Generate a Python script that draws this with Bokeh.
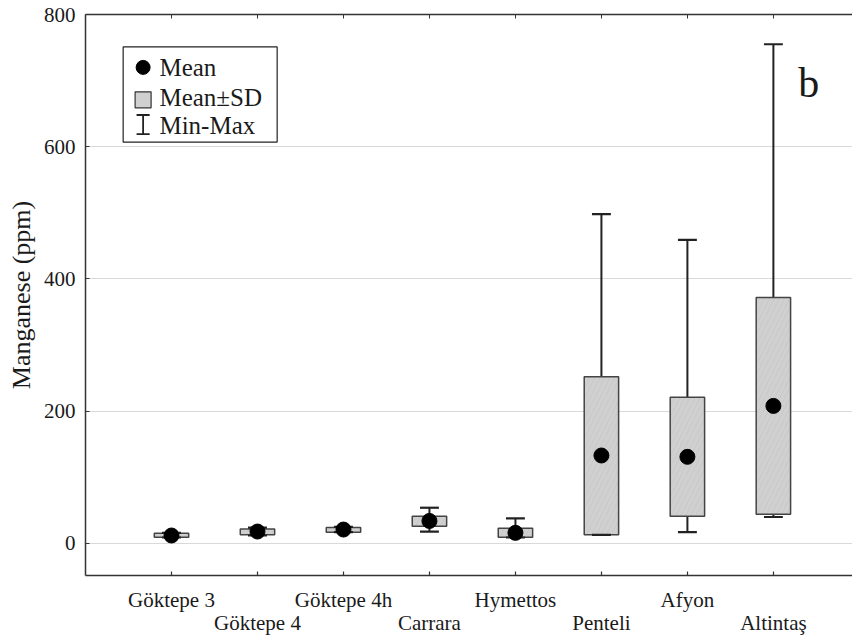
from bokeh.plotting import figure
from bokeh.models import Range1d, FixedTicker, LinearAxis, ColumnDataSource, Label
from bokeh.core.properties import value
from bokeh.embed import file_html
from bokeh.resources import INLINE

categories = ["Göktepe 3", "Göktepe 4", "Göktepe 4h", "Carrara", "Hymettos", "Penteli", "Afyon", "Altintaş"]
means = [12, 18, 21, 34, 16, 133, 131, 208]
sd_low = [9.5, 13, 17, 26, 9.5, 13, 41, 44]
sd_high = [15.5, 22, 24, 41, 23, 252, 221, 372]
mins = [9, 12, 17, 18, 9, 13, 17, 40]
maxs = [16, 24, 25, 54, 38, 498, 459, 755]
y_ticks = [0, 200, 400, 600, 800]

FONT = "Liberation Serif"
TXT = "#1a1a1a"
pos = list(range(1, len(categories) + 1))
odd_pos = [i for i in pos if i % 2 == 1]
even_pos = [i for i in pos if i % 2 == 0]

src = ColumnDataSource(dict(x=pos, mean=means, lo=sd_low, hi=sd_high, mn=mins, mx=maxs))

p = figure(width=852, height=641, output_backend="svg", toolbar_location=None,
           x_range=Range1d(0, 8.92), y_range=Range1d(-48.5, 800),
           min_border_left=85, min_border_right=0, min_border_top=14, min_border_bottom=66)
p.outline_line_color = None
p.background_fill_color = "white"
p.border_fill_color = "white"

# grid
p.xgrid.visible = False
p.ygrid.ticker = FixedTicker(ticks=y_ticks)
p.ygrid.grid_line_color = "#d9d9d9"
p.ygrid.grid_line_width = 1

# axes
for ax in (p.xaxis[0], p.yaxis[0]):
    ax.axis_line_color = "#333333"
    ax.axis_line_width = 1.5
    ax.major_tick_line_color = "#333333"
    ax.major_tick_line_width = 1.2
    ax.major_tick_in = 4
    ax.major_tick_out = 0
    ax.minor_tick_line_color = None
    ax.major_label_text_font = FONT
    ax.major_label_text_font_size = "21px"
    ax.major_label_text_color = TXT

p.yaxis[0].ticker = FixedTicker(ticks=y_ticks)
p.yaxis[0].axis_label = "Manganese (ppm)"
p.yaxis[0].axis_label_text_font = FONT
p.yaxis[0].axis_label_text_font_style = "normal"
p.yaxis[0].axis_label_text_font_size = "26px"
p.yaxis[0].axis_label_text_color = TXT
p.yaxis[0].major_label_standoff = 10
p.yaxis[0].axis_label_standoff = 5

labels = dict(zip(pos, categories))
p.xaxis[0].ticker = FixedTicker(ticks=pos)
p.xaxis[0].major_label_overrides = {i: (labels[i] if i in odd_pos else "") for i in pos}
p.xaxis[0].major_label_standoff = 12

bottom2 = LinearAxis(ticker=FixedTicker(ticks=even_pos), axis_line_color=None,
                     major_tick_line_color=None, minor_tick_line_color=None,
                     major_tick_in=0, major_tick_out=0, major_label_standoff=-4,
                     major_label_text_font=FONT, major_label_text_font_size="21px",
                     major_label_text_color=TXT)
bottom2.major_label_overrides = {i: labels[i] for i in even_pos}
p.add_layout(bottom2, "below")

top_ax = LinearAxis(ticker=FixedTicker(ticks=pos), major_label_text_font_size="0px",
                    axis_line_color="#333333", axis_line_width=1.5,
                    major_tick_line_color="#333333", major_tick_in=4, major_tick_out=0,
                    minor_tick_line_color=None)
top_ax.major_label_overrides = {i: "" for i in pos}
p.add_layout(top_ax, "above")

# whiskers
p.segment(x0="x", y0="mn", x1="x", y1="mx", source=src, line_color="#222222", line_width=2)
# boxes
p.vbar(x="x", top="hi", bottom="lo", width=0.4, source=src, fill_color="#d0d0d0",
       line_color="#444444", line_width=1.5, hatch_pattern="/", hatch_color="#c3c3c3",
       hatch_scale=10, hatch_weight=0.6)
# caps
cw = 0.11
p.segment(x0=[x - cw for x in pos], y0=maxs, x1=[x + cw for x in pos], y1=maxs,
          line_color="#222222", line_width=2.2)
p.segment(x0=[x - cw for x in pos], y0=mins, x1=[x + cw for x in pos], y1=mins,
          line_color="#222222", line_width=2.2)
# means
p.scatter(x="x", y="mean", source=src, size=15, marker="circle", fill_color="black", line_color="black")

# manual legend
lx0, lx1, ly0, ly1 = 0.438, 2.229, 607, 751
p.quad(left=[lx0], right=[lx1], bottom=[ly0], top=[ly1], fill_color="white",
       line_color="#222222", line_width=1.2)
gx = 0.67
p.scatter(x=[gx], y=[720], size=14, marker="circle", fill_color="black", line_color="black")
p.scatter(x=[gx], y=[671], size=16, marker="square", fill_color="#d0d0d0", line_color="#333333", line_width=1.2)
p.segment(x0=[gx], y0=[619], x1=[gx], y1=[648], line_color="#222222", line_width=1.8)
p.segment(x0=[gx - 0.076, gx - 0.076], y0=[619, 648], x1=[gx + 0.076, gx + 0.076], y1=[619, 648],
          line_color="#222222", line_width=1.8)
p.text(x=[0.86] * 3, y=[720, 675, 632], text=["Mean", "Mean±SD", "Min-Max"],
       text_font=value(FONT), text_font_size="25px", text_baseline="middle",
       text_align="left", text_color=TXT)

p.add_layout(Label(x=8.41, y=696, text="b", text_font=FONT, text_font_size="42px",
                   text_color=TXT, text_align="center", text_baseline="alphabetic"))

open("out.html", "w").write(file_html(p, INLINE))
